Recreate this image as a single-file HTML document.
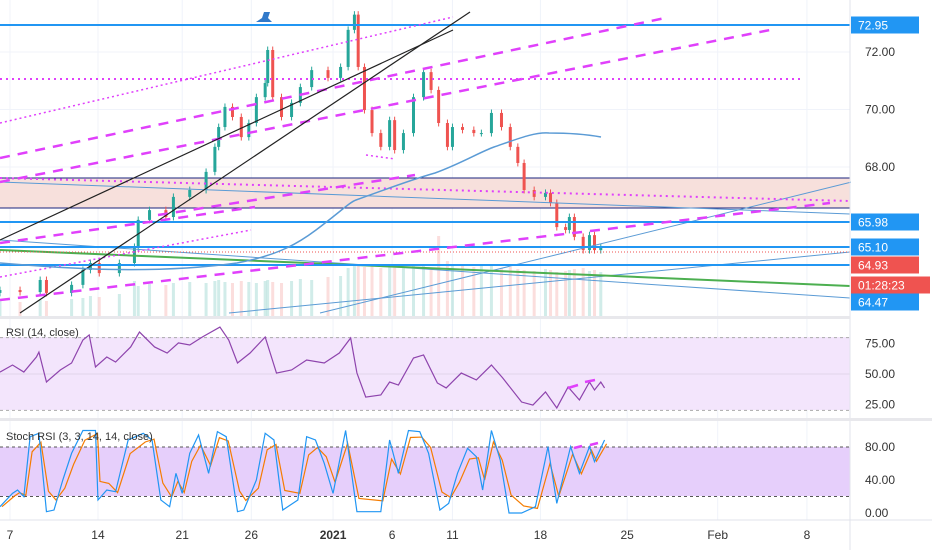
<!DOCTYPE html>
<html><head><meta charset="utf-8"><style>
html,body{margin:0;padding:0;background:#fff;}
svg{display:block;font-family:"Liberation Sans",sans-serif;}
</style></head><body>
<svg id="chart" width="932" height="550" viewBox="0 0 932 550" xmlns="http://www.w3.org/2000/svg">
<g id="grid"></g>
<g id="annot-back"></g>
<g id="volume"></g>
<g id="candles"></g>
<g id="annot"></g>
<g id="rsi"></g>
<g id="stoch"></g>
<g id="axes"></g>
</svg>
<script>
// ---- data ----
const priceDays = [-0.8,0.8,2.4,2.9,4.9,5.8,6.4,7.1,8.7,9.9,10.2,11.1,12.4,13.0,14.3,15.6,16.3,16.6,17.1,17.7,18.4,19.0,19.6,20.3,20.5,20.9,21.6,22.4,23.1,24.0,25.3,26.3,26.9,27.4,27.7,28.2,28.8,29.5,30.2,30.6,31.3,32.1,32.9,33.5,34.1,34.8,35.2,36.0,36.9,37.5,38.3,39.1,39.8,40.4,40.9,41.7,42.6,43.0,43.5,44.2,44.5,44.9,45.6,46.1,46.5,47.0];
const closes = [63.72,63.65,64.07,63.62,63.90,64.42,64.66,64.31,64.66,65.22,66.16,66.50,66.26,66.96,67.20,67.83,68.70,69.39,70.09,69.74,69.04,69.53,70.43,70.92,72.07,70.43,69.74,70.23,70.78,71.37,71.10,71.48,72.77,73.30,71.48,69.98,69.18,68.70,69.63,68.59,69.18,70.43,71.30,70.68,69.53,68.70,69.39,69.29,69.18,69.18,69.88,69.39,68.70,68.14,67.20,66.96,67.10,66.75,65.91,65.81,66.26,65.57,65.11,65.63,65.11,65.22];
const volumes = [30,28,32,30,34,36,40,38,44,70,60,64,62,66,68,66,70,72,68,66,70,68,66,70,72,68,66,70,74,72,78,80,96,100,104,98,100,96,102,100,98,104,100,96,160,110,104,100,98,102,100,96,98,94,92,90,94,92,88,90,92,94,96,90,92,88];
const rsiDays = [-0.8,0.2,1.1,2.1,2.3,2.9,4.0,4.9,5.8,6.3,6.8,7.7,8.4,9.6,10.3,11.5,12.5,13.4,14.3,15.3,16.7,17.4,18.1,19.1,20.3,21.2,22.4,23.6,25.0,26.2,27.1,27.6,28.3,29.5,30.2,30.9,32.1,32.9,34.0,34.7,35.9,37.1,38.3,39.2,40.7,41.6,42.6,43.5,44.4,45.3,46.1,46.5,47.0,47.3];
const rsiValues = [51.6,57.4,51.6,64.0,68.1,43.4,53.3,59.1,78.0,82.2,55.8,64.0,59.9,72.3,84.6,72.3,67.3,75.6,73.9,80.5,88.7,78.0,59.1,67.3,80.5,50.8,53.3,61.5,59.1,67.3,79.7,50.8,31.0,32.7,43.4,40.9,63.2,65.7,42.6,38.5,50.8,45.1,57.4,46.7,26.9,24.4,35.2,22.0,39.3,28.6,43.4,36.8,43.4,38.5];
const stochDays = [-0.8,0.2,0.6,1.1,1.6,2.3,2.9,3.5,4.2,4.9,5.8,6.8,7.0,7.7,8.4,9.4,10.6,11.3,12.0,12.7,13.2,13.7,14.3,15.0,15.8,16.5,17.2,18.1,18.6,19.6,20.3,21.0,21.7,22.9,23.6,24.3,25.0,25.7,26.7,27.6,29.5,30.2,30.9,31.7,32.6,33.3,34.2,34.9,35.6,36.4,37.1,37.6,38.3,39.0,39.7,40.7,41.8,42.8,43.5,44.6,45.3,46.1,46.5,47.3];
const stochK = [7.6,23.8,27.9,19.8,92.5,96.6,1.6,3.6,40,72.4,100,100,15.8,27.9,25.8,88.5,96.6,88.5,15.8,7.6,48.1,23.8,72.4,94.5,48.1,98.6,92.5,1.6,3.6,40,96.6,88.5,3.6,15.8,92.5,88.5,60.2,23.8,100,1.6,1.6,88.5,48.1,100,98.6,72.4,3.6,11.7,48.1,78.4,68.3,27.9,100,64.2,0,0,7.6,80.4,11.7,80.4,48.1,80.4,62.2,88.5];
const timeTickDays = [0,7,13.7,19.2,25.7,30.4,35.2,42.2,49.1,56.3,63.4];
const timeTickLabels = ["7","14","21","26","2021","6","11","18","25","Feb","8"];
const priceTicks = [72,70,68];
const rsiTicks = [75,50,25];
const stochTicks = [80,40,0];

// ---- scales ----
const X = d => 10 + d*12.57;
const Y = p => 52 + (72-p)*28.75;
const YR = v => 374 - (v-50)*1.213;
const YS = v => 513 - v*0.825;
const NS="http://www.w3.org/2000/svg";
function mk(parent, tag, attrs, text){
  const e=document.createElementNS(NS,tag);
  for(const k in attrs) e.setAttribute(k,attrs[k]);
  if(text!==undefined) e.textContent=text;
  document.getElementById(parent).appendChild(e);
  return e;
}

// ---- grid ----
timeTickDays.forEach(d=>{
  const l=mk('grid','line',{x1:X(d),x2:X(d),y1:0,y2:520,stroke:'#f0f3fa','stroke-width':1});
  
  
});
priceTicks.forEach(p=>{
  const l=mk('grid','line',{x1:0,x2:850,y1:Y(p),y2:Y(p),stroke:'#f0f3fa'});
  
  
});

// ---- drawings behind ----
const zone=mk('annot-back','rect',{x:0,y:178,width:850,height:30,fill:'#f7e0dc'});


mk('annot-back','line',{x1:0,x2:850,y1:178,y2:178,stroke:'#1a237e','stroke-width':1});
mk('annot-back','line',{x1:0,x2:850,y1:208,y2:208,stroke:'#1a237e','stroke-width':1});

// ---- volume ----
priceDays.forEach((d,i)=>{
  const h=volumes[i]*0.5;
  const up=i===0||closes[i]>=closes[i-1];
  const r=mk('volume','rect',{x:X(d)-1.5,y:316-h,width:3,height:h,fill:up?'#b2dfdb':'#f8c8c7',opacity:0.6});
  
  
});

// ---- candles ----
priceDays.forEach((d,i)=>{
  const o=i===0?closes[0]-0.1:closes[i-1], c=closes[i];
  const up=c>=o, col=up?'#26a69a':'#ef5350';
  const hi=Math.max(o,c)+0.12, lo=Math.min(o,c)-0.12;
  const x=X(d);
  const w=mk('candles','line',{x1:x,x2:x,y1:Y(hi),y2:Y(lo),stroke:col,'stroke-width':1});
  
  
  const b=mk('candles','rect',{x:x-1.5,y:Math.min(Y(o),Y(c)),width:3,height:Math.max(1,Math.abs(Y(o)-Y(c))),fill:col});
  
  
});

// ---- drawings ----
function ln(name,x1,y1,x2,y2,stroke,w,dash){
  const a={x1,y1,x2,y2,stroke,'stroke-width':w};
  if(dash) a['stroke-dasharray']=dash;
  const e=mk('annot','line',a);
  
  
}
ln('ma-line-blue',0,240,850,298,'#5b9bd5',1);
ln('trend-blue-1',229,313,850,252,'#5b9bd5',1);
ln('trend-blue-2',320,313,880,175,'#5b9bd5',1);
ln('trend-blue-3',0,182,850,214,'#5b9bd5',1);
ln('green-trendline',0,250,850,286,'#4caf50',2);
ln('resistance-72-95',0,25,850,25,'#2196f3',2);
ln('level-65-98',0,222,850,222,'#2196f3',2);
ln('level-65-10',0,247,850,247,'#2196f3',2);
ln('level-64-93',0,265,850,265,'#2196f3',2);
ln('last-price-line',0,252,850,252,'#ef5350',1,'1 2');
ln('dotted-level-71',0,79,803,79,'#e040fb',2,'2 4');
ln('dotted-zone-line',0,178,850,201,'#e040fb',2,'2 4');
ln('dashed-channel-1',0,158,665,18,'#e040fb',2.5,'10 8');
ln('dashed-channel-2',0,182,770,30,'#e040fb',2.5,'10 8');
ln('dashed-channel-3',0,300,830,203,'#e040fb',2.5,'10 8');
ln('dashed-channel-4',0,243,255,207,'#e040fb',2.5,'10 8');
ln('dashed-channel-5',158,215,415,175,'#e040fb',2.5,'10 8');
ln('dotted-channel-1',0,123,453,17,'#e040fb',1.5,'2 3');
ln('dotted-channel-2',0,277,251,230,'#e040fb',1.5,'2 3');
ln('dotted-low',366,155,395,159,'#e040fb',1.5,'2 3');
ln('black-trendline-1',0,240,453,30,'#222',1.2);
ln('black-trendline-2',20,313,470,12,'#222',1.2);
const ma=mk('annot','path',{d:'M0,263 C60,268 150,275 237,263 C280,255 300,242 316,230 C340,212 350,202 356,200 C390,188 410,180 435,173 C460,164 480,152 494,147 C520,138 535,132 549,133 C570,133 590,135 601,137',fill:'none',stroke:'#5b9bd5','stroke-width':1.5});


const pin=mk('annot','path',{d:'M256,22 L262,18 L264,12 L270,12 L268,18 L272,22 Z',fill:'#3179c9'});



// ---- RSI ----
mk('rsi','rect',{x:0,y:337,width:850,height:73,fill:'#f3e5fc'});
[80,20].forEach(v=>mk('rsi','line',{x1:0,x2:850,y1:YR(v),y2:YR(v),stroke:'#aaa','stroke-dasharray':'3 3'}));
mk('rsi','line',{x1:0,x2:850,y1:YR(50),y2:YR(50),stroke:'#e0d5ea'});
const rp=mk('rsi','polyline',{points:rsiDays.map((d,i)=>X(d)+','+YR(rsiValues[i])).join(' '),fill:'none',stroke:'#8e44ad','stroke-width':1.2});


mk('rsi','line',{x1:568,x2:578,y1:388,y2:385,stroke:'#e040fb','stroke-width':2.5});
mk('rsi','line',{x1:585,x2:595,y1:382,y2:380,stroke:'#e040fb','stroke-width':2.5});
const rt=mk('rsi','text',{x:6,y:336,'font-size':11,fill:'#333'},'RSI (14, close)');



// ---- Stoch RSI ----
mk('stoch','rect',{x:0,y:447,width:850,height:49,fill:'#e6cffb'});
[80,20].forEach(v=>mk('stoch','line',{x1:0,x2:850,y1:YS(v),y2:YS(v),stroke:'#555','stroke-dasharray':'3 3'}));
const stochD = stochK.map((v,i)=>{const a=stochK.slice(Math.max(0,i-2),i+1);return a.reduce((s,x)=>s+x,0)/a.length;});
const dp=mk('stoch','polyline',{points:stochDays.map((d,i)=>(X(d)+2)+','+YS(stochD[i]*0.4+stochK[i]*0.6)).join(' '),fill:'none',stroke:'#f57c00','stroke-width':1.2});


const kp=mk('stoch','polyline',{points:stochDays.map((d,i)=>X(d)+','+YS(stochK[i])).join(' '),fill:'none',stroke:'#2196f3','stroke-width':1.2});


mk('stoch','line',{x1:574,x2:582,y1:448,y2:446,stroke:'#e040fb','stroke-width':2.5});
mk('stoch','line',{x1:590,x2:598,y1:445,y2:443,stroke:'#e040fb','stroke-width':2.5});
const st=mk('stoch','text',{x:6,y:440,'font-size':11,fill:'#333'},'Stoch RSI (3, 3, 14, 14, close)');



// ---- axes / separators ----
mk('axes','rect',{x:851,y:0,width:81,height:550,fill:'#fff'});
mk('axes','line',{x1:850,x2:850,y1:0,y2:550,stroke:'#e0e3eb'});
mk('axes','rect',{x:0,y:316,width:850,height:3,fill:'#e8e8ec'});
mk('axes','rect',{x:0,y:418,width:932,height:3,fill:'#e8e8ec'});
mk('axes','line',{x1:0,x2:932,y1:520,y2:520,stroke:'#e0e3eb'});
priceTicks.forEach(p=>{
  const t=mk('axes','text',{x:865,y:Y(p)+4,'font-size':12,fill:'#333'},p.toFixed(2));
  
  
});
rsiTicks.forEach(v=>{
  const t=mk('axes','text',{x:865,y:YR(v)+4,'font-size':12,fill:'#333'},v.toFixed(2));
  
  
});
stochTicks.forEach(v=>{
  const t=mk('axes','text',{x:865,y:YS(v)+4,'font-size':12,fill:'#333'},v.toFixed(2));
  
  
});
function tag(name,y,txt,bg,w){
  const r=mk('axes','rect',{x:851,y:y-8.5,width:w,height:17,fill:bg});
  
  
  mk('axes','text',{x:858,y:y+4.5,'font-size':12,fill:'#fff'},txt);
}
tag('price-label-72-95',25,'72.95','#2196f3',68);
tag('price-label-65-98',222,'65.98','#2196f3',68);
tag('price-label-65-10',247,'65.10','#2196f3',68);
tag('price-label-last',265,'64.93','#ef5350',68);
tag('countdown-label',285,'01:28:23','#ef5350',79);
tag('price-label-64-47',302,'64.47','#2196f3',68);
timeTickDays.forEach((d,i)=>{
  const t=mk('axes','text',{x:X(d),y:539,'font-size':12,fill:'#333','text-anchor':'middle','font-weight':timeTickLabels[i]==='2021'?'bold':'normal'},timeTickLabels[i]);
  
  
});
</script>
</body></html>
